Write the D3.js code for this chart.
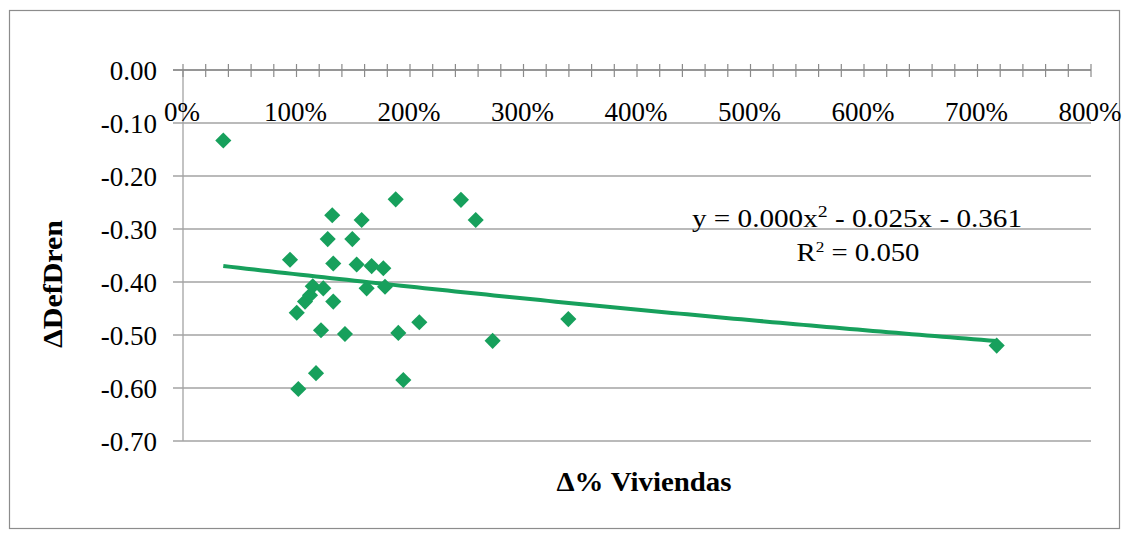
<!DOCTYPE html>
<html>
<head>
<meta charset="utf-8">
<script src="https://cdn.jsdelivr.net/npm/d3@7"></script>
<style>
  html, body { margin: 0; padding: 0; background: #fff; }
  svg { display: block; }
  text { font-family: "Liberation Serif", "Times New Roman", serif; fill: #000; }
</style>
</head>
<body>
<svg id="chart" width="1128" height="536" font-family="Liberation Serif, serif"></svg>
<script>
// ---- data (x = Δ% Viviendas as fraction, y = ΔDefDren) ----
const viviendas = [0.355, 0.943, 1.002, 1.016, 1.075, 1.119, 1.143, 1.172, 1.216, 1.236,
                   1.275, 1.315, 1.324, 1.324, 1.427, 1.492, 1.530, 1.574, 1.618, 1.662,
                   1.765, 1.780, 1.874, 1.897, 1.941, 2.082, 2.449, 2.579, 2.728, 3.395, 7.169];
const defDren   = [-0.133, -0.358, -0.458, -0.602, -0.437, -0.425, -0.408, -0.572, -0.491, -0.412,
                   -0.319, -0.274, -0.365, -0.437, -0.498, -0.319, -0.367, -0.283, -0.412, -0.370,
                   -0.374, -0.409, -0.244, -0.496, -0.585, -0.476, -0.245, -0.283, -0.511, -0.470, -0.520];
const xTickValues = [0, 1, 2, 3, 4, 5, 6, 7, 8];
const yTickValues = [0, -0.1, -0.2, -0.3, -0.4, -0.5, -0.6, -0.7];
// polynomial trendline coefficients (a x^2 + b x + c)
const trendA = 0.00056, trendB = -0.025, trendC = -0.361;
const equationText = ["y = 0.000x", "2", " - 0.025x - 0.361"];
const r2Text = ["R", "2", " = 0.050"];
const xTitle = "Δ% Viviendas";
const yTitle = "ΔDefDren";

const svg = d3.select("#chart");
const green = "#17a05c";
const grid = "#a3a3a3";
const serif = "'Liberation Serif', 'Times New Roman', serif";

// outer border
svg.append("rect").attr("x", 9.5).attr("y", 10.5).attr("width", 1110).attr("height", 518)
  .attr("fill", "#fff").attr("stroke", "#8c8c8c").attr("stroke-width", 1.2);

const x = d3.scaleLinear().domain([0, 8]).range([183, 1091]);
const y = d3.scaleLinear().domain([0, -0.7]).range([70, 441]);

// horizontal gridlines + left ticks
const g = svg.append("g");
yTickValues.forEach(v => {
  g.append("line").attr("x1", 173).attr("x2", 1091)
    .attr("y1", y(v)).attr("y2", y(v))
    .attr("stroke", grid).attr("stroke-width", 1.3);
});
// vertical axis
g.append("line").attr("x1", x(0)).attr("x2", x(0)).attr("y1", y(0)).attr("y2", y(-0.7))
  .attr("stroke", grid).attr("stroke-width", 1.3);

// x axis at y = 0 with cross ticks every 20%
const xAxisTicks = d3.range(0, 8.0001, 0.2);
xAxisTicks.forEach(t => {
  g.append("line").attr("x1", x(t)).attr("x2", x(t)).attr("y1", y(0) - 6).attr("y2", y(0) + 7)
    .attr("stroke", "#8a8a8a").attr("stroke-width", 1.2);
});
g.append("line").attr("x1", x(0) - 10).attr("x2", x(8)).attr("y1", y(0)).attr("y2", y(0))
  .attr("stroke", "#8a8a8a").attr("stroke-width", 1.3);

// y tick labels
const fmtY = v => d3.format(".2f")(v).replace("\u2212", "-");
yTickValues.forEach(v => {
  svg.append("text")
    .attr("x", 157).attr("y", y(v) + 9.5)
    .attr("text-anchor", "end").attr("font-size", 27).attr("font-family", serif)
    .text(v === 0 ? "0.00" : fmtY(v));
});
// x tick labels
xTickValues.forEach(v => {
  svg.append("text")
    .attr("x", x(v) - 1).attr("y", 121)
    .attr("text-anchor", "middle").attr("font-size", 27).attr("font-family", serif)
    .text(d3.format(".0%")(v));
});

// trendline
const xmin = d3.min(viviendas), xmax = d3.max(viviendas);
const trendPts = d3.range(0, 101).map(i => {
  const xv = xmin + (xmax - xmin) * i / 100;
  return [xv, trendA * xv * xv + trendB * xv + trendC];
});
svg.append("path")
  .attr("d", d3.line().x(d => x(d[0])).y(d => y(d[1]))(trendPts))
  .attr("fill", "none").attr("stroke", green).attr("stroke-width", 4);

// markers (diamonds)
const diamond = d3.symbol().type(d3.symbolSquare).size(130);
svg.append("g").selectAll("path").data(viviendas.map((v, i) => [v, defDren[i]]))
  .join("path")
  .attr("d", diamond)
  .attr("transform", d => `translate(${x(d[0])},${y(d[1])}) rotate(45)`)
  .attr("fill", green);

// equation labels
const eq = svg.append("text").attr("x", 857).attr("y", 227).attr("text-anchor", "middle")
  .attr("font-size", 25).attr("font-family", serif)
  .attr("textLength", 330).attr("lengthAdjust", "spacingAndGlyphs");
eq.append("tspan").text(equationText[0]);
eq.append("tspan").attr("dy", -10).attr("font-size", 17).text(equationText[1]);
eq.append("tspan").attr("dy", 10).text(equationText[2]);

const r2 = svg.append("text").attr("x", 858).attr("y", 261).attr("text-anchor", "middle")
  .attr("font-size", 25).attr("font-family", serif)
  .attr("textLength", 123).attr("lengthAdjust", "spacingAndGlyphs");
r2.append("tspan").text(r2Text[0]);
r2.append("tspan").attr("dy", -9).attr("font-size", 15).text(r2Text[1]);
r2.append("tspan").attr("dy", 9).text(r2Text[2]);

// axis titles
svg.append("text").attr("x", 644).attr("y", 491).attr("text-anchor", "middle")
  .attr("font-size", 27).attr("font-weight", "bold").attr("font-family", serif)
  .attr("textLength", 175).attr("lengthAdjust", "spacingAndGlyphs").text(xTitle);
svg.append("text").attr("transform", "translate(62,284) rotate(-90)").attr("text-anchor", "middle")
  .attr("font-size", 27).attr("font-weight", "bold").attr("font-family", serif)
  .attr("textLength", 128).attr("lengthAdjust", "spacingAndGlyphs").text(yTitle);
</script>
</body>
</html>
